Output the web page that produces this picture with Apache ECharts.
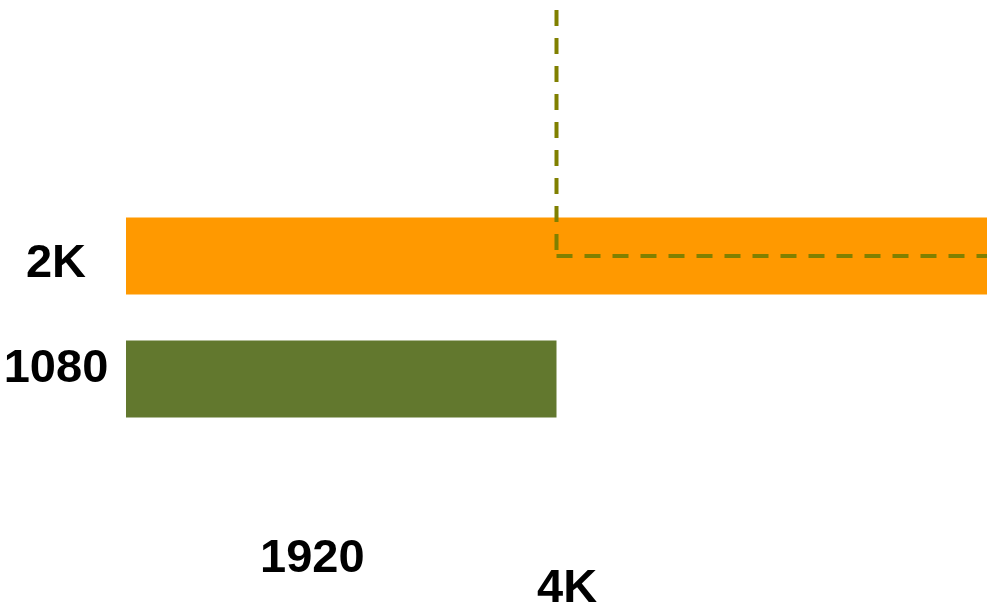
<!DOCTYPE html>
<html><head><meta charset="utf-8">
<script src="https://cdn.jsdelivr.net/npm/echarts@6/dist/echarts.min.js"></script>
<style>html,body{margin:0;padding:0;background:#fff}#c{width:987px;height:607px}</style>
</head><body><div id="c"></div>
<script>
var categories = ['1080', '2K', '4K', ''];
var barValues = [1920, 3840, null, null];
var barColors = ['#62782e', '#ff9900'];
var outlineVertical = [[1920, 3], [1920, 1]];
var outlineHorizontal = [[1920, 1], [3840, 1]];
var widthLabels = ['1920', '4K'];

var chart = echarts.init(document.getElementById('c'));
var labelFont = 'Liberation Sans, Arial';
chart.setOption({
  animation: false,
  grid: { left: 126, right: 0, top: 10, bottom: 228, containLabel: false },
  xAxis: { type: 'value', min: 0, max: 3840, show: false },
  yAxis: {
    type: 'category', data: categories, boundaryGap: false,
    axisLine: { show: false }, axisTick: { show: false }, splitLine: { show: false },
    axisLabel: {
      margin: 70, align: 'center',
      formatter: function (v) {
        if (v === '2K') return '{d|' + v + '}';
        if (v === '1080') return '{u|' + v + '}';
        return '';
      },
      rich: {
        d: { fontFamily: labelFont, fontWeight: 'bold', fontSize: 47, color: '#000', padding: [16, 0, 0, 0] },
        u: { fontFamily: labelFont, fontWeight: 'bold', fontSize: 47, color: '#000', padding: [0, 0, 20, 0] }
      }
    }
  },
  series: [
    {
      type: 'bar', barWidth: 77,
      data: barValues.map(function (v, i) { return { value: v, itemStyle: { color: barColors[i] } }; }),
      silent: true
    },
    {
      type: 'line', data: outlineVertical, symbol: 'none', silent: true,
      lineStyle: { color: '#808000', width: 4, type: [16, 12] }, z: 5
    },
    {
      type: 'line', data: outlineHorizontal, symbol: 'none', silent: true,
      lineStyle: { color: '#808000', width: 4, type: [16, 12] }, z: 5
    }
  ],
  graphic: [
    { type: 'text', left: 260, top: 536, style: { text: widthLabels[0], font: 'bold 47px "Liberation Sans", Arial', fill: '#000' } },
    { type: 'text', left: 537, top: 566, style: { text: widthLabels[1], font: 'bold 47px "Liberation Sans", Arial', fill: '#000' } }
  ]
});
</script></body></html>
